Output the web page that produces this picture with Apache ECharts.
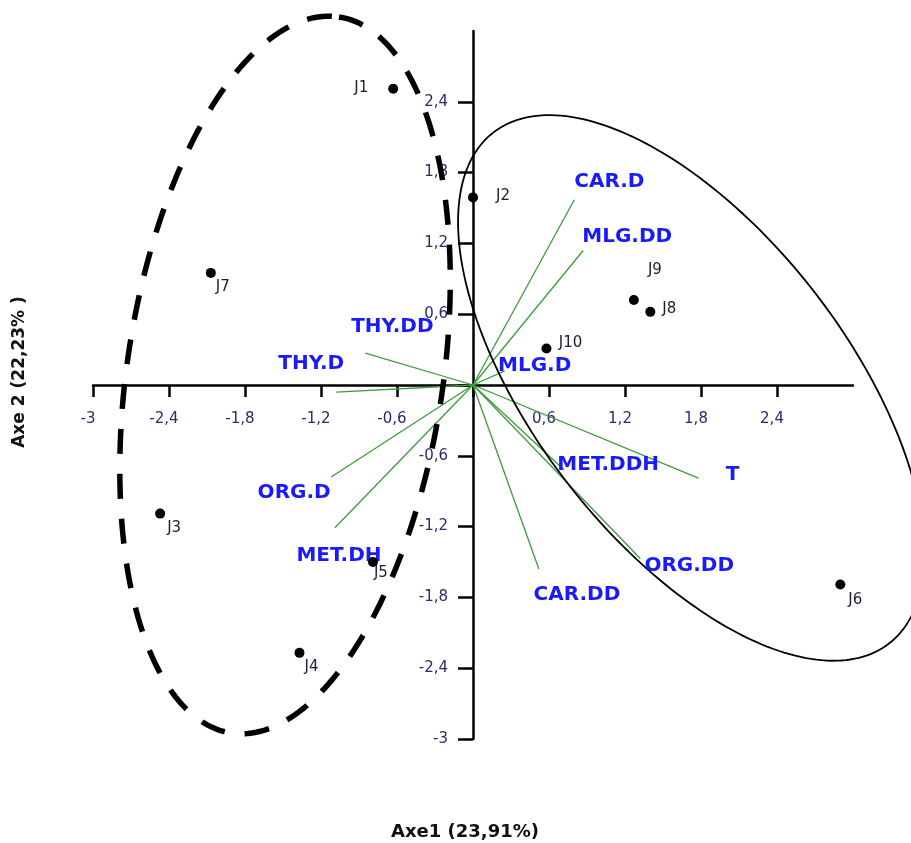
<!DOCTYPE html>
<html><head><meta charset="utf-8">
<script src="https://cdn.jsdelivr.net/npm/echarts@6/dist/echarts.min.js"></script>
<style>html,body{margin:0;padding:0;background:#fff}#c{width:911px;height:843px}</style>
</head><body><div id="c"></div>
<script>
// Observation scores on factorial axes 1 and 2
const obsNames = ['J1', 'J2', 'J3', 'J4', 'J5', 'J6', 'J7', 'J8', 'J9', 'J10'];
const obsX = [-0.63, 0.00, -2.47, -1.37, -0.79, 2.90, -2.07, 1.40, 1.27, 0.58];
const obsY = [2.51, 1.59, -1.09, -2.27, -1.50, -1.69, 0.95, 0.62, 0.72, 0.31];

// Variable loadings (arrow tips, drawn from the origin)
const varNames = ['CAR.D', 'MLG.DD', 'MLG.D', 'THY.DD', 'THY.D', 'ORG.D', 'MET.DH', 'T', 'MET.DDH', 'ORG.DD', 'CAR.DD'];
const varX = [0.80, 0.87, 0.25, -0.85, -1.08, -1.12, -1.09, 1.78, 0.72, 1.32, 0.52];
const varY = [1.57, 1.14, 0.12, 0.27, -0.06, -0.78, -1.21, -0.79, -0.72, -1.47, -1.56];

// Axis ticks (the origin is left unlabelled)
const axisTicks = [-3, -2.4, -1.8, -1.2, -0.6, 0, 0.6, 1.2, 1.8, 2.4];
const axisLabels = [-3, -2.4, -1.8, -1.2, -0.6, 0.6, 1.2, 1.8, 2.4];

// Group envelopes: centre and two conjugate semi-axes, in axis units
const groupLeft = { c: [-1.484, 0.085], a: [0.426, 3.034], b: [1.233, -0.20] };
const groupRight = { c: [1.723, -0.025], a: [1.561, -2.166], b: [-0.976, -0.808] };

// Label placement (pixel offsets from the point)
const obsLabelOffset = {
  J1: [-32, -1], J2: [30, -1], J3: [14, 14], J4: [12, 14], J5: [8, 11],
  J6: [15, 16], J7: [12, 14], J8: [19, -3], J9: [21, -30], J10: [24, -5]
};
const varLabelOffset = {
  'CAR.D': [35, -18], 'MLG.DD': [44, -14], 'MLG.D': [30, -5], 'THY.DD': [27, -26],
  'THY.D': [-25, -28], 'ORG.D': [-37, 16], 'MET.DH': [4, 28], 'T': [34, -3],
  'MET.DDH': [44, -5], 'ORG.DD': [49, 7], 'CAR.DD': [38, 26]
};

// Plot area and axis range
const gridBox = { left: 93, right: 58, top: 31, bottom: 104 };
const chartW = 911, chartH = 843;
const range = [-3, 3];

function ellipsePath(e) {
  const pts = [];
  const n = 240;
  for (let i = 0; i <= n; i++) {
    const t = (i / n) * Math.PI * 2;
    pts.push([
      e.c[0] + Math.cos(t) * e.a[0] + Math.sin(t) * e.b[0],
      e.c[1] + Math.cos(t) * e.a[1] + Math.sin(t) * e.b[1]
    ]);
  }
  return pts;
}

function fmt(v) {
  return Number.isInteger(v) ? String(v) : v.toFixed(1).replace('.', ',');
}

// Shift both axes so they cross at the origin, labels included
const plotW = chartW - gridBox.left - gridBox.right;
const plotH = chartH - gridBox.top - gridBox.bottom;
const zeroFrac = (0 - range[0]) / (range[1] - range[0]);
const xAxisOffset = -plotH * zeroFrac;
const yAxisOffset = -plotW * zeroFrac;

const labelColor = '#2d2a6e';
const sans = 'DejaVu Sans';

function ellipseSeries(name, e, z, style) {
  const path = ellipsePath(e);
  return {
    name, type: 'custom', coordinateSystem: 'cartesian2d', clip: false, silent: true, z,
    data: [[e.c[0], e.c[1]]],
    renderItem: (params, api) => ({
      type: 'polyline',
      shape: { points: path.map(p => api.coord(p)) },
      style: Object.assign({ fill: null, stroke: '#000' }, style)
    })
  };
}

const chart = echarts.init(document.getElementById('c'), null, { renderer: 'canvas' });

chart.setOption({
  animation: false,
  backgroundColor: '#ffffff',
  grid: Object.assign({ containLabel: false }, gridBox),
  xAxis: {
    type: 'value', min: range[0], max: range[1], interval: 0.6,
    position: 'bottom', offset: xAxisOffset,
    axisLine: { onZero: false, lineStyle: { color: '#000', width: 2.5 } },
    axisTick: { show: true, length: 12, customValues: axisTicks, lineStyle: { color: '#000', width: 2.5 } },
    axisLabel: {
      customValues: axisLabels, formatter: fmt, margin: 27,
      color: labelColor, fontFamily: sans, fontSize: 15, padding: [0, 10, 0, 0]
    },
    splitLine: { show: false }
  },
  yAxis: {
    type: 'value', min: range[0], max: range[1], interval: 0.6,
    position: 'left', offset: yAxisOffset,
    axisLine: { onZero: false, lineStyle: { color: '#000', width: 2.5 } },
    axisTick: { show: true, length: 15, customValues: axisTicks, lineStyle: { color: '#000', width: 2.5 } },
    axisLabel: {
      customValues: axisLabels, formatter: fmt, margin: 25,
      color: labelColor, fontFamily: sans, fontSize: 15
    },
    splitLine: { show: false }
  },
  graphic: [
    {
      type: 'text', x: 465, y: 832, z: 100,
      style: { text: 'Axe1 (23,91%)', font: 'bold 18px "DejaVu Sans"', fill: '#111', align: 'center', verticalAlign: 'middle' }
    },
    {
      type: 'text', x: 20, y: 372, rotation: Math.PI / 2, z: 100,
      style: { text: 'Axe 2 (22,23% )', font: 'bold 17px "DejaVu Sans"', fill: '#111', align: 'center', verticalAlign: 'middle' }
    }
  ],
  series: [
    ellipseSeries('groupRight', groupRight, 3, { lineWidth: 1.8 }),
    ellipseSeries('groupLeft', groupLeft, 4, { lineWidth: 5.5, lineDash: [25, 20] }),
    {
      name: 'loadings', type: 'lines', coordinateSystem: 'cartesian2d', z: 2, silent: true,
      lineStyle: { color: '#3c9c3c', width: 1.3, opacity: 1 },
      data: varNames.map((n, i) => ({ name: n, coords: [[0, 0], [varX[i], varY[i]]] }))
    },
    {
      name: 'loadingLabels', type: 'scatter', symbolSize: 0, z: 6, silent: true,
      itemStyle: { opacity: 1 },
      data: varNames.map((n, i) => ({
        name: n, value: [varX[i], varY[i]],
        label: {
          show: true, position: 'inside', offset: varLabelOffset[n], formatter: n,
          color: '#1a1aff', fontFamily: sans, fontWeight: 'bold', fontSize: 20
        }
      }))
    },
    {
      name: 'observations', type: 'scatter', symbol: 'circle', symbolSize: 10, z: 7,
      itemStyle: { color: '#000', opacity: 1 },
      data: obsNames.map((n, i) => ({
        name: n, value: [obsX[i], obsY[i]],
        label: {
          show: true, position: 'inside', offset: obsLabelOffset[n], formatter: n,
          color: '#1e1e2e', fontFamily: sans, fontSize: 15
        }
      }))
    }
  ]
});
</script>
</body></html>
